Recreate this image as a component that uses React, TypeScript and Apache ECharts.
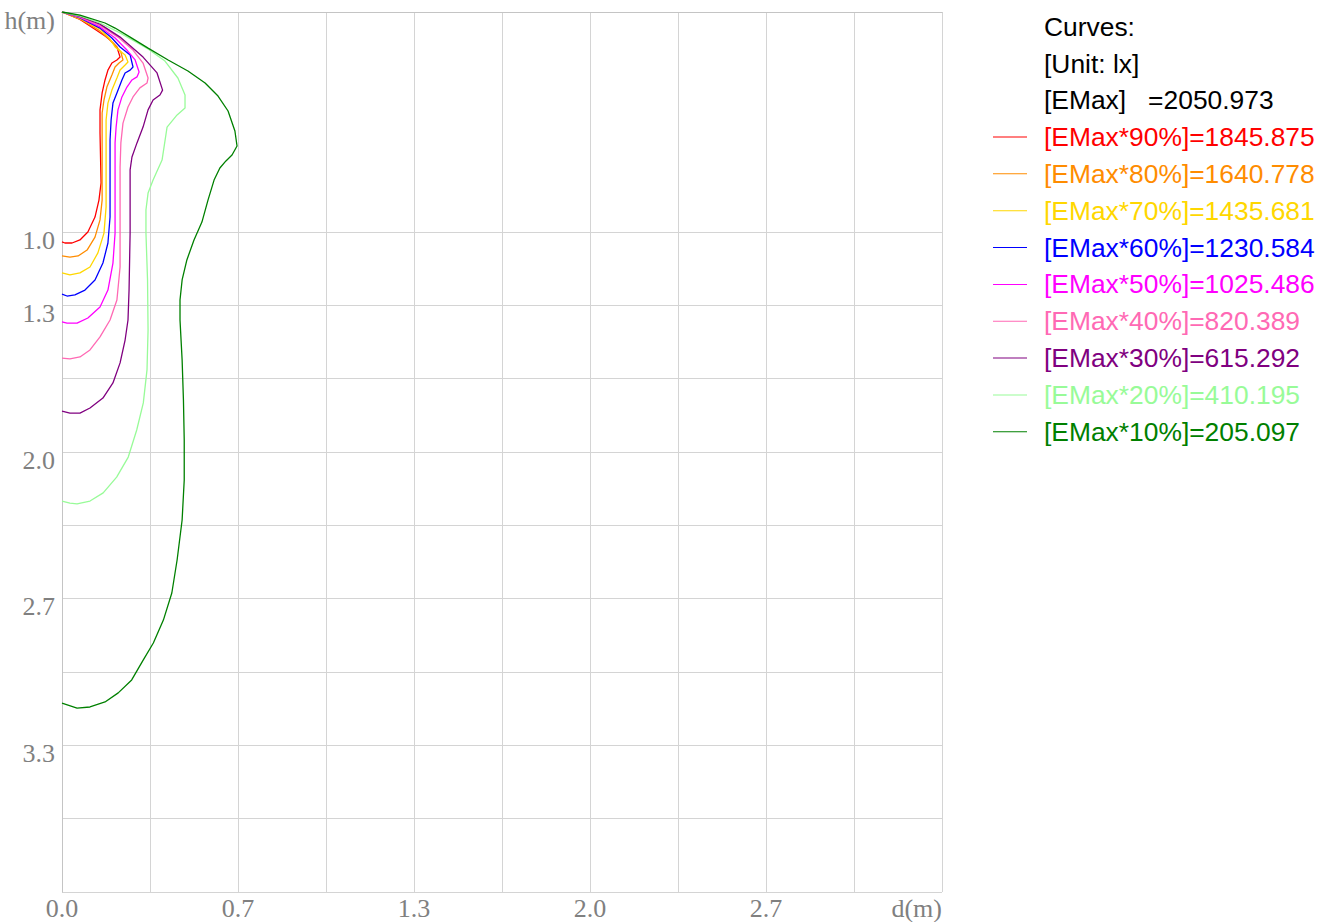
import React, { useEffect, useRef } from "react";
import * as echarts from "echarts";

// ---- data (d in metres, h in metres below the luminaire) ----
const levelNames = [
  "[EMax*90%]=1845.875",
  "[EMax*80%]=1640.778",
  "[EMax*70%]=1435.681",
  "[EMax*60%]=1230.584",
  "[EMax*50%]=1025.486",
  "[EMax*40%]=820.389",
  "[EMax*30%]=615.292",
  "[EMax*20%]=410.195",
  "[EMax*10%]=205.097",
];
const levelColors = [
  "#ff0000",
  "#ff8c00",
  "#ffd700",
  "#0000ff",
  "#ff00ff",
  "#ff69b4",
  "#800080",
  "#98fb98",
  "#008000",
];
const headerLines = ["Curves:", "[Unit: lx]", "[EMax]\u00a0\u00a0\u00a0=2050.973"];

const curve90: number[][] = [
  [0, 0], [0.068, 0.034], [0.129, 0.082], [0.163, 0.109], [0.182, 0.127], [0.208, 0.159],
  [0.22, 0.205], [0.208, 0.218], [0.189, 0.232], [0.174, 0.264], [0.163, 0.309], [0.152, 0.368],
  [0.144, 0.445], [0.144, 0.55], [0.148, 0.777], [0.14, 0.855], [0.125, 0.932], [0.098, 1.0],
  [0.068, 1.036], [0.038, 1.05], [0.011, 1.05], [0, 1.045],
];
const curve80: number[][] = [
  [0, 0], [0.068, 0.032], [0.136, 0.08], [0.174, 0.118], [0.193, 0.141], [0.223, 0.182],
  [0.231, 0.218], [0.216, 0.232], [0.201, 0.25], [0.189, 0.286], [0.17, 0.341], [0.159, 0.4],
  [0.152, 0.459], [0.152, 0.55], [0.152, 0.855], [0.144, 0.945], [0.125, 1.023], [0.095, 1.082],
  [0.061, 1.109], [0.03, 1.114], [0, 1.109],
];
const curve70: number[][] = [
  [0, 0], [0.068, 0.03], [0.144, 0.077], [0.182, 0.123], [0.201, 0.159], [0.239, 0.195],
  [0.25, 0.227], [0.239, 0.241], [0.22, 0.264], [0.208, 0.3], [0.189, 0.355], [0.174, 0.414],
  [0.167, 0.491], [0.167, 0.595], [0.167, 0.886], [0.159, 1.005], [0.136, 1.095], [0.106, 1.159],
  [0.068, 1.186], [0.03, 1.195], [0, 1.186],
];
const curve60: number[][] = [
  [0, 0], [0.068, 0.027], [0.144, 0.073], [0.189, 0.118], [0.22, 0.159], [0.258, 0.195],
  [0.269, 0.25], [0.258, 0.264], [0.239, 0.277], [0.227, 0.309], [0.208, 0.368], [0.193, 0.414],
  [0.186, 0.491], [0.182, 0.582], [0.182, 0.932], [0.174, 1.05], [0.155, 1.141], [0.125, 1.218],
  [0.087, 1.264], [0.049, 1.286], [0.019, 1.291], [0, 1.282],
];
const curve50: number[][] = [
  [0, 0], [0.068, 0.025], [0.144, 0.068], [0.201, 0.118], [0.246, 0.173], [0.277, 0.218],
  [0.292, 0.273], [0.284, 0.295], [0.265, 0.309], [0.246, 0.341], [0.227, 0.386], [0.212, 0.445],
  [0.205, 0.523], [0.201, 0.595], [0.201, 1.005], [0.193, 1.141], [0.174, 1.264], [0.144, 1.341],
  [0.098, 1.391], [0.057, 1.414], [0.019, 1.414], [0, 1.409],
];
const curve40: number[][] = [
  [0, 0], [0.068, 0.023], [0.144, 0.061], [0.212, 0.114], [0.269, 0.173], [0.307, 0.232],
  [0.326, 0.3], [0.322, 0.323], [0.295, 0.345], [0.269, 0.386], [0.25, 0.432], [0.231, 0.505],
  [0.223, 0.595], [0.22, 0.705], [0.22, 1.159], [0.208, 1.309], [0.182, 1.4], [0.144, 1.477],
  [0.106, 1.536], [0.068, 1.568], [0.03, 1.577], [0, 1.573],
];
const curve30: number[][] = [
  [0, 0], [0.068, 0.02], [0.144, 0.055], [0.22, 0.114], [0.307, 0.205], [0.36, 0.277],
  [0.381, 0.355], [0.371, 0.377], [0.345, 0.4], [0.326, 0.445], [0.307, 0.523], [0.284, 0.595],
  [0.265, 0.659], [0.258, 0.718], [0.258, 1.005], [0.254, 1.264], [0.25, 1.4], [0.239, 1.491],
  [0.22, 1.595], [0.193, 1.686], [0.155, 1.755], [0.106, 1.8], [0.068, 1.823], [0.03, 1.823],
  [0, 1.814],
];
const curve20: number[][] = [
  [0, 0], [0.068, 0.018], [0.144, 0.05], [0.22, 0.095], [0.326, 0.168], [0.39, 0.223],
  [0.439, 0.3], [0.466, 0.377], [0.466, 0.436], [0.436, 0.468], [0.398, 0.523], [0.379, 0.673],
  [0.345, 0.764], [0.326, 0.823], [0.318, 0.9], [0.318, 1.005], [0.324, 1.218], [0.326, 1.445],
  [0.322, 1.627], [0.308, 1.777], [0.283, 1.9], [0.251, 2.023], [0.207, 2.114], [0.156, 2.186],
  [0.106, 2.223], [0.057, 2.236], [0.03, 2.232], [0, 2.223],
];
const curve10: number[][] = [
  [0, 0], [0.068, 0.014], [0.163, 0.05], [0.201, 0.073], [0.258, 0.114], [0.326, 0.164],
  [0.402, 0.218], [0.477, 0.268], [0.542, 0.323], [0.591, 0.382], [0.629, 0.45], [0.655, 0.541],
  [0.663, 0.609], [0.644, 0.65], [0.621, 0.677], [0.598, 0.709], [0.576, 0.764], [0.553, 0.855],
  [0.53, 0.955], [0.5, 1.036], [0.473, 1.127], [0.455, 1.218], [0.447, 1.309], [0.447, 1.4],
  [0.455, 1.582], [0.46, 1.764], [0.463, 1.945], [0.463, 2.127], [0.455, 2.309], [0.436, 2.491],
  [0.416, 2.641], [0.384, 2.764], [0.346, 2.868], [0.308, 2.945], [0.264, 3.036], [0.213, 3.095],
  [0.163, 3.136], [0.106, 3.159], [0.057, 3.164], [0, 3.141],
];
const curves = [curve90, curve80, curve70, curve60, curve50, curve40, curve30, curve20, curve10];

// tick labels, keyed by tick index (ticks every 1/3 m)
const xTickLabels: Record<number, string> = { 0: "0.0", 2: "0.7", 4: "1.3", 6: "2.0", 8: "2.7", 10: "d(m)" };
const yTickLabels: Record<number, string> = { 0: "h(m)", 3: "1.0", 4: "1.3", 6: "2.0", 8: "2.7", 10: "3.3" };
const yHiddenGridTicks = [1, 2];

const STEP = 1 / 3;
const X_MAX = 10 / 3;
const Y_MAX = 4;

export default function App() {
  const ref = useRef<HTMLDivElement>(null);

  useEffect(() => {
    document.body.style.margin = "0";
    if (!ref.current) return;
    const chart = echarts.init(ref.current, undefined, { renderer: "svg" });

    const gridColor = "#d4d4d4";
    const yLineColors: string[] = [];
    for (let k = 0; k <= Math.round(Y_MAX / STEP); k++) {
      yLineColors.push(yHiddenGridTicks.includes(k) ? "rgba(0,0,0,0)" : gridColor);
    }
    const labelFont = {
      fontFamily: "'Liberation Serif', 'DejaVu Serif', serif",
      fontSize: 26,
      color: "#808080",
    };
    const legendFont = "'Liberation Sans', Arial, sans-serif";

    chart.setOption({
      animation: false,
      grid: { left: 62, top: 12, width: 880, height: 880, containLabel: false },
      xAxis: {
        type: "value",
        min: 0,
        max: X_MAX,
        interval: STEP,
        axisLine: { show: true, lineStyle: { color: "#c4c4c4", width: 1 } },
        axisTick: { show: false },
        splitLine: { show: true, lineStyle: { color: gridColor, width: 1 } },
        axisLabel: {
          ...labelFont,
          margin: 3,
          showMinLabel: true,
          showMaxLabel: true,
          alignMaxLabel: "right",
          formatter: (v: number) => xTickLabels[Math.round(v / STEP)] ?? "",
        },
      },
      yAxis: {
        type: "value",
        inverse: true,
        min: 0,
        max: Y_MAX,
        interval: STEP,
        axisLine: { show: true, lineStyle: { color: "#c4c4c4", width: 1 } },
        axisTick: { show: false },
        splitLine: { show: true, lineStyle: { color: yLineColors, width: 1 } },
        axisLabel: {
          ...labelFont,
          margin: 7,
          showMinLabel: true,
          showMaxLabel: true,
          verticalAlign: "top",
          lineHeight: 16,
          formatter: (v: number) => yTickLabels[Math.round(v / STEP)] ?? "",
        },
      },
      legend: {
        orient: "vertical",
        left: 993,
        top: 122,
        padding: 0,
        itemWidth: 34,
        itemHeight: 1,
        itemGap: 6.85,
        icon: "rect",
        textStyle: {
          fontFamily: legendFont,
          fontSize: 26.4,
          lineHeight: 30,
          padding: [0, 0, 0, 12],
        },
        data: levelNames.map((n, i) => ({ name: n, textStyle: { color: levelColors[i] } })),
      },
      graphic: headerLines.map((t, i) => ({
        type: "text",
        x: 1044,
        y: 27 + i * 36.6,
        style: {
          text: t,
          fontFamily: legendFont,
          fontSize: 26.4,
          fill: "#000",
          verticalAlign: "middle",
        },
      })),
      series: curves.map((c, i) => ({
        type: "line",
        name: levelNames[i],
        data: c,
        showSymbol: false,
        symbol: "none",
        smooth: false,
        color: levelColors[i],
        lineStyle: { color: levelColors[i], width: 1.3 },
      })),
    });

    return () => chart.dispose();
  }, []);

  return <div ref={ref} style={{ width: 1328, height: 922 }} />;
}
